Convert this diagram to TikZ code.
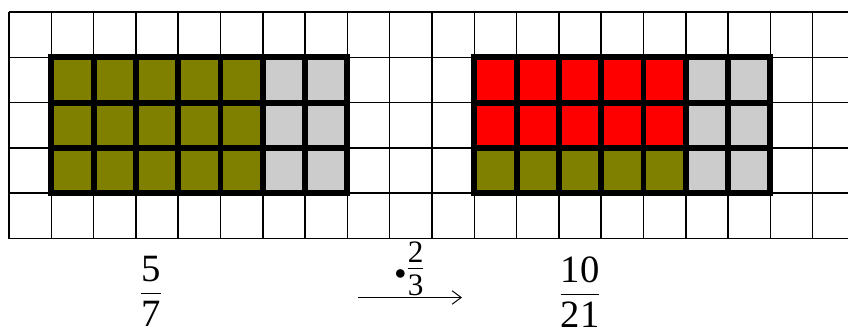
\RequirePackage{fix-cm}
\documentclass[tikz,border=0pt]{standalone}
\usepackage{amsmath}
\usepackage{fontspec}
\setmainfont{Liberation Serif}
\usepackage{tikz}
\usetikzlibrary{arrows.meta}
\definecolor{cellolive}{HTML}{808000}
\definecolor{cellred}{HTML}{FF0000}
\definecolor{cellgray}{HTML}{CCCCCC}
% fraction with the digits set a little closer to the bar
\newcommand{\gridfrac}[2]{$\dfrac{\raisebox{-3pt}{#1}}{\raisebox{2.5pt}{#2}}$}
\tikzset{
  thingrid/.style={black,line width=1pt},
  thickgrid/.style={black,line width=4pt,line cap=rect},
  fraclabel/.style={inner sep=0pt,anchor=base,font=\fontsize{26}{30}\selectfont},
}

\begin{document}
\begin{tikzpicture}[x=1cm,y=1.071cm]
\useasboundingbox (-0.213,-1.943) rectangle (19.835,5.265);
% coloured cells, left block 5/7
\fill[cellolive] (1,1) rectangle (6,4);
\fill[cellgray] (6,1) rectangle (8,4);
% right block 10/21
\fill[cellred] (11,2) rectangle (16,4);
\fill[cellolive] (11,1) rectangle (16,2);
\fill[cellgray] (16,1) rectangle (18,4);
% squared paper
\foreach \i in {0,...,19} \draw[thingrid] (\i,0) -- (\i,5);
\foreach \j in {0,...,5} \draw[thingrid] (0,\j) -- (19.835,\j);
% thick frames round the two blocks
\foreach \i in {1,...,8} \draw[thickgrid] (\i,1) -- (\i,4);
\foreach \j in {1,...,4} \draw[thickgrid] (1,\j) -- (8,\j);
\foreach \i in {11,...,18} \draw[thickgrid] (\i,1) -- (\i,4);
\foreach \j in {1,...,4} \draw[thickgrid] (11,\j) -- (18,\j);
% fractions and the operator arrow
\node[fraclabel] (fracLeft) at (3.357,-1.428) {\gridfrac{5}{7}};
\node[fraclabel] (fracRight) at (13.50,-1.450) {\gridfrac{10}{21}};
\coordinate (arrStart) at (8.251,-1.302);
\coordinate (arrEnd) at (10.709,-1.302);
\draw[-{Straight Barb[length=6pt,width=9pt]},line width=0.7pt] (arrStart) -- node[above,inner sep=1pt,font=\fontsize{30}{34}\selectfont] (factor) {${\scriptscriptstyle\bullet}\tfrac{\text{2}}{\text{3}}$} (arrEnd);
\end{tikzpicture}
\end{document}
